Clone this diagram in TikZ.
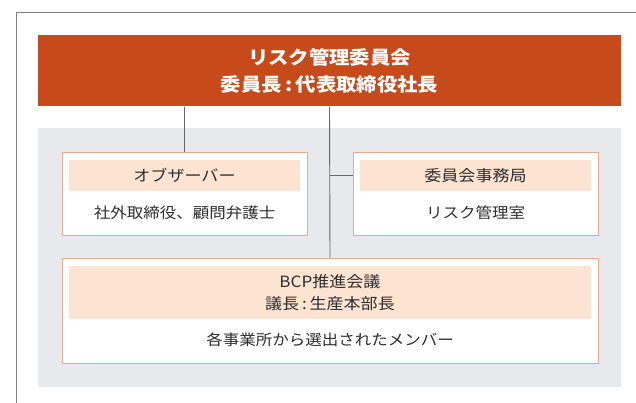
\documentclass[tikz,border=0pt]{standalone}
\usepackage{fontspec}
\setmainfont{Noto Sans CJK JP}[FakeStretch=1.1]
\definecolor{orng}{HTML}{C64A1A}
\definecolor{peach}{HTML}{FDE4D2}
\definecolor{salmon}{HTML}{EBAA8C}
\definecolor{panel}{HTML}{E8E9EC}
\definecolor{txt}{HTML}{2E2E2E}
\definecolor{framec}{HTML}{7F7F7F}
\definecolor{linec}{HTML}{666666}
\newcommand{\jcolon}{\hspace{0.18em}:\hspace{0.18em}}
\tikzset{
  topbox/.style={rectangle, fill=orng, text=white, inner sep=0pt, align=center,
    font=\fontsize{18.5}{27}\selectfont\bfseries},
  unitbox/.style={rectangle, draw=salmon, line width=1pt, fill=white, inner sep=0pt},
  headbox/.style={rectangle, fill=peach, text=txt, inner sep=0pt, align=center,
    font=\fontsize{15.5}{22}\selectfont},
  bodytext/.style={text=txt, inner sep=0pt, font=\fontsize{15}{20}\selectfont},
  conn/.style={draw=linec, line width=0.9pt}
}
\begin{document}
\begin{tikzpicture}[x=1pt,y=-1pt]
\useasboundingbox (0,0) rectangle (636,403);
\draw[framec, line width=0.9pt] (16,403) -- (16,12.5) -- (636,12.5);
\fill[panel] (38,128) rectangle (621,387);
\node[topbox, minimum width=583pt, minimum height=71.5pt] (rmc) at (329.5,70.75)
  {リスク管理委員会\\委員長\jcolon 代表取締役社長};
\node[unitbox, minimum width=245pt, minimum height=82.5pt] (obs) at (184.5,193.75) {};
\node[headbox, minimum width=231pt, minimum height=31pt] (obshead) at (184.5,175.5) {オブザーバー};
\node[bodytext] (obsbody) at (184.5,213) {社外取締役、顧問弁護士};
\node[unitbox, minimum width=245pt, minimum height=82.5pt] (sec) at (475.5,193.75) {};
\node[headbox, minimum width=231pt, minimum height=31pt] (sechead) at (475.5,175.5) {委員会事務局};
\node[bodytext] (secbody) at (475.5,213) {リスク管理室};
\node[unitbox, minimum width=536pt, minimum height=105pt] (bcp) at (330,310.5) {};
\node[headbox, minimum width=522pt, minimum height=53pt] (bcphead) at (330,292.5)
  {BCP推進会議\\議長\jcolon 生産本部長};
\node[bodytext] (bcpbody) at (330,340) {各事業所から選出されたメンバー};
\draw[conn] (obs.north) -- (obs.north |- rmc.south);
\draw[conn] (rmc.south) -- (bcp.north);
\draw[conn] (rmc.south |- sechead.center) -- (sec.west |- sechead.center);
\end{tikzpicture}
\end{document}
